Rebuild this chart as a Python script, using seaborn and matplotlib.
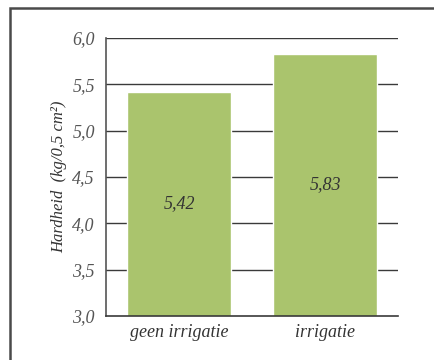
import matplotlib
matplotlib.use("Agg")
import matplotlib.pyplot as plt
import matplotlib.ticker as mticker
from matplotlib.patches import Rectangle
import seaborn as sns
import pandas as pd

# hardness per treatment
categories = ["geen irrigatie", "irrigatie"]
hardness = [5.42, 5.83]
labels = ["5,42", "5,83"]

df = pd.DataFrame({"behandeling": categories, "hardheid": hardness})

sns.set_style("white")
plt.rcParams["font.family"] = ["Liberation Serif", "DejaVu Serif"]
plt.rcParams["font.style"] = "italic"

fig = plt.figure(figsize=(4.34, 3.6), dpi=100)
ax = fig.add_axes([106 / 434, 1 - 316 / 360, 292 / 434, 278 / 360])

# gridlines first so bars sit on top
for yv in [3.5, 4.0, 4.5, 5.0, 5.5, 6.0]:
    ax.axhline(yv, color="#3a3a3a", lw=1.0, zorder=0)

sns.barplot(data=df, x="behandeling", y="hardheid", color="#aac46d",
            saturation=1, width=0.71, ax=ax, zorder=2)

for i, (v, lab) in enumerate(zip(hardness, labels)):
    ax.text(i, (3 + v) / 2, lab, ha="center", va="center", fontsize=13,
            color="#333333", style="italic", zorder=3)

ax.set_ylim(3, 6)
ax.set_xlim(-0.5, 1.5)
ax.set_yticks([3.0, 3.5, 4.0, 4.5, 5.0, 5.5, 6.0])
ax.yaxis.set_major_formatter(mticker.FuncFormatter(lambda v, p: f"{v:.1f}".replace(".", ",")))
ax.set_xticks([0, 1])
ax.set_xticklabels(categories)
ax.set_xticks([-0.5, 0.5, 1.5], minor=True)
ax.tick_params(axis="x", which="major", length=0, pad=6, labelsize=13, labelcolor="#333333")
ax.tick_params(axis="x", which="minor", length=5, width=1, color="#3a3a3a", direction="out")
ax.tick_params(axis="y", length=6, width=1, color="#3a3a3a", direction="out",
               labelsize=13, labelcolor="#555555", pad=2)

for s in ["top", "right"]:
    ax.spines[s].set_visible(False)
ax.spines["left"].set_color("#555555")
ax.spines["bottom"].set_color("#3a3a3a")
ax.spines["left"].set_linewidth(1.2)
ax.spines["bottom"].set_linewidth(1.2)

ax.set_xlabel("")
ax.set_ylabel("Hardheid  (kg/0,5 cm²)", fontsize=12, color="#333333", labelpad=4)

# outer frame, partially visible
fig.patches.append(Rectangle((10 / 434, -0.1), 1.2, 1 - 8 / 360 + 0.1,
                             transform=fig.transFigure, fill=False,
                             edgecolor="#4a4a4a", lw=1.8, zorder=0))

fig.savefig("out.png", dpi=100)
